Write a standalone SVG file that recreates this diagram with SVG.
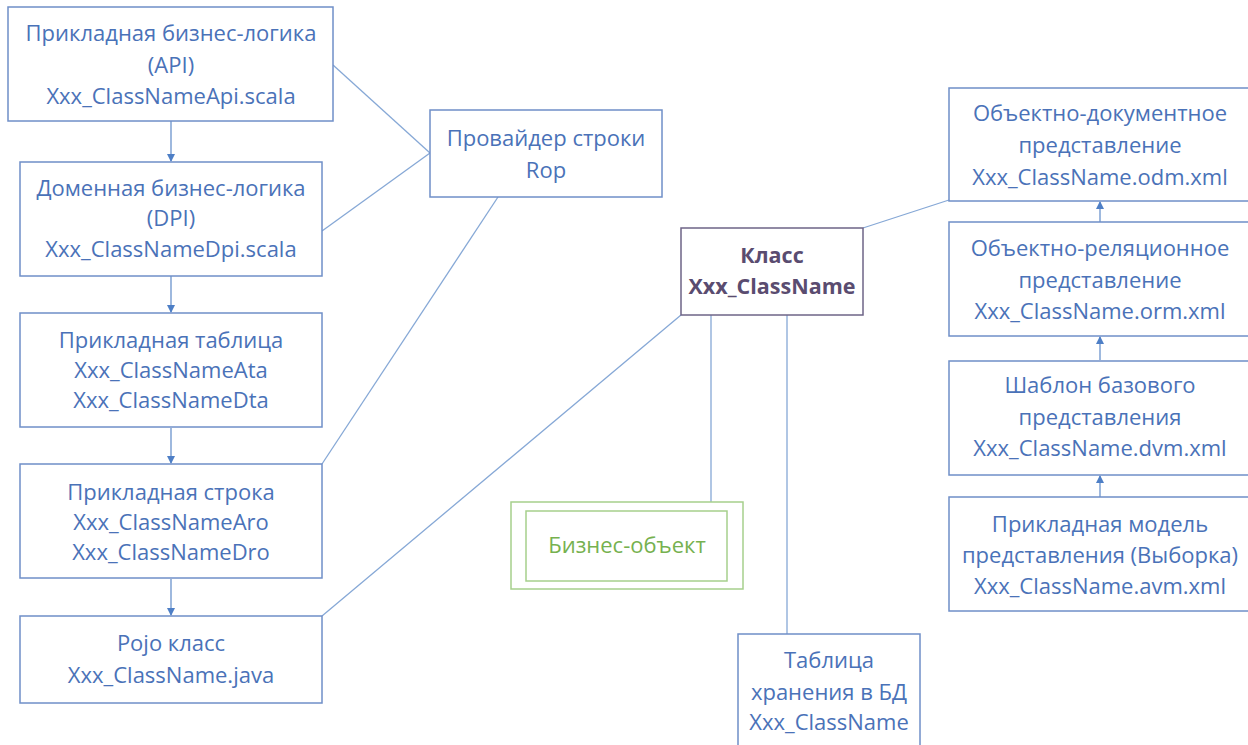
<svg xmlns="http://www.w3.org/2000/svg" width="1248" height="745" viewBox="0 0 1248 745">
<style>
.box{fill:#fff;stroke:#6f8fc8;stroke-width:1.5}
.t{font-family:"Open Sans","Liberation Sans",sans-serif;font-size:22px;fill:#4a72b8;text-anchor:middle}
.cls{fill:#fff;stroke:#6e6487;stroke-width:1.5}
.ct{font-family:"Open Sans","Liberation Sans",sans-serif;font-size:21.5px;font-weight:bold;fill:#5a4c70;text-anchor:middle}
.g{fill:#fff;stroke:#a6cf8c;stroke-width:1.5}
.gt{font-family:"Open Sans","Liberation Sans",sans-serif;font-size:22px;fill:#76b14f;text-anchor:middle}
.ln{stroke:#86a8d6;stroke-width:1.3;fill:none}
.ar{stroke:#6a93cc;stroke-width:1.3;fill:none}
</style>
<defs>
<marker id="ah" markerWidth="8" markerHeight="8" refX="7" refY="4" orient="auto" markerUnits="userSpaceOnUse">
<path d="M0,0 L8,4 L0,8 z" fill="#4e7fc6"/>
</marker>
</defs>
<rect width="1248" height="745" fill="#fff"/>
<g id="connectors">
<line class="ln" x1="333" y1="65" x2="430" y2="153"/>
<line class="ln" x1="322" y1="231" x2="430" y2="153"/>
<line class="ln" x1="498" y1="197" x2="322" y2="464"/>
<line class="ln" x1="681" y1="315" x2="322" y2="616"/>
<line class="ln" x1="711" y1="315" x2="711" y2="502"/>
<line class="ln" x1="787" y1="315" x2="787" y2="634"/>
<line class="ln" x1="863" y1="228" x2="949" y2="200"/>
<line class="ar" x1="171" y1="121" x2="171" y2="161" marker-end="url(#ah)"/>
<line class="ar" x1="171" y1="276" x2="171" y2="312" marker-end="url(#ah)"/>
<line class="ar" x1="171" y1="428" x2="171" y2="463" marker-end="url(#ah)"/>
<line class="ar" x1="171" y1="579" x2="171" y2="615" marker-end="url(#ah)"/>
<line class="ar" x1="1100" y1="222" x2="1100" y2="202" marker-end="url(#ah)"/>
<line class="ar" x1="1100" y1="360" x2="1100" y2="337" marker-end="url(#ah)"/>
<line class="ar" x1="1100" y1="497" x2="1100" y2="476" marker-end="url(#ah)"/>
</g>
<g id="api">
<rect class="box" x="8" y="7" width="325" height="114"/>
<text class="t" x="171" y="41">Прикладная бизнес-логика</text>
<text class="t" x="171" y="73">(API)</text>
<text class="t" x="171" y="104">Xxx_ClassNameApi.scala</text>
</g>
<g id="dpi">
<rect class="box" x="20" y="162" width="302" height="114"/>
<text class="t" x="171" y="196">Доменная бизнес-логика</text>
<text class="t" x="171" y="226">(DPI)</text>
<text class="t" x="171" y="257">Xxx_ClassNameDpi.scala</text>
</g>
<g id="table">
<rect class="box" x="20" y="313" width="302" height="114"/>
<text class="t" x="171" y="348">Прикладная таблица</text>
<text class="t" x="171" y="378">Xxx_ClassNameAta</text>
<text class="t" x="171" y="408">Xxx_ClassNameDta</text>
</g>
<g id="row">
<rect class="box" x="20" y="464" width="302" height="114"/>
<text class="t" x="171" y="500">Прикладная строка</text>
<text class="t" x="171" y="530">Xxx_ClassNameAro</text>
<text class="t" x="171" y="560">Xxx_ClassNameDro</text>
</g>
<g id="pojo">
<rect class="box" x="20" y="616" width="302" height="87"/>
<text class="t" x="171" y="651">Pojo класс</text>
<text class="t" x="171" y="683">Xxx_ClassName.java</text>
</g>
<g id="provider">
<rect class="box" x="430" y="110" width="232" height="87"/>
<text class="t" x="546" y="146">Провайдер строки</text>
<text class="t" x="546" y="178">Rop</text>
</g>
<g id="class">
<rect class="cls" x="681" y="228" width="182" height="87"/>
<text class="ct" x="772" y="263">Класс</text>
<text class="ct" x="772" y="294">Xxx_ClassName</text>
</g>
<g id="bo">
<rect class="g" x="511" y="502" width="232" height="87"/>
<rect class="g" x="526" y="511" width="201" height="70"/>
<text class="gt" x="627" y="553">Бизнес-объект</text>
</g>
<g id="dbtable">
<rect class="box" x="738" y="634" width="182" height="130"/>
<text class="t" x="829" y="668">Таблица</text>
<text class="t" x="829" y="700">хранения в БД</text>
<text class="t" x="829" y="730">Xxx_ClassName</text>
</g>
<g id="odm">
<rect class="box" x="949" y="88" width="310" height="113"/>
<text class="t" x="1100" y="121">Объектно-документное</text>
<text class="t" x="1100" y="153">представление</text>
<text class="t" x="1100" y="185">Xxx_ClassName.odm.xml</text>
</g>
<g id="orm">
<rect class="box" x="949" y="222" width="310" height="114"/>
<text class="t" x="1100" y="256">Объектно-реляционное</text>
<text class="t" x="1100" y="288">представление</text>
<text class="t" x="1100" y="319">Xxx_ClassName.orm.xml</text>
</g>
<g id="dvm">
<rect class="box" x="949" y="361" width="310" height="114"/>
<text class="t" x="1100" y="393">Шаблон базового</text>
<text class="t" x="1100" y="425">представления</text>
<text class="t" x="1100" y="456">Xxx_ClassName.dvm.xml</text>
</g>
<g id="avm">
<rect class="box" x="949" y="497" width="310" height="114"/>
<text class="t" x="1100" y="532">Прикладная модель</text>
<text class="t" x="1100" y="563">представления (Выборка)</text>
<text class="t" x="1100" y="594">Xxx_ClassName.avm.xml</text>
</g>
</svg>
